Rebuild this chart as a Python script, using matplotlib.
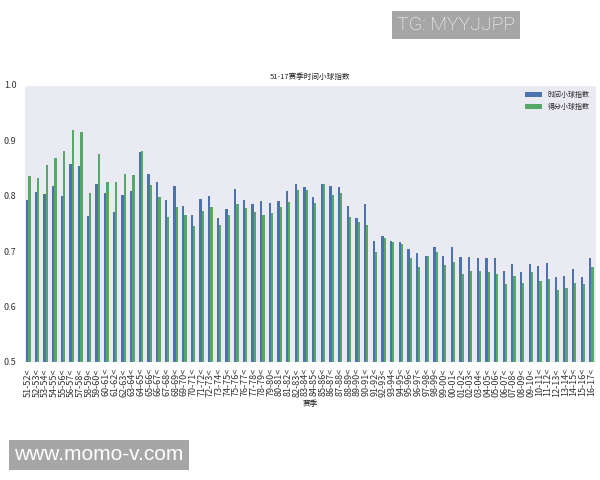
import numpy as np
import matplotlib
matplotlib.use('Agg')
import matplotlib.pyplot as plt
import seaborn as sns

sns.set_style('darkgrid')
plt.rcParams['font.family'] = ['Noto Sans CJK SC', 'DejaVu Sans']
plt.rcParams['axes.unicode_minus'] = False

# seasons 51-52 .. 16-17
years = list(range(1951, 2017))
seasons = ['%02d-%02d<' % (y % 100, (y + 1) % 100) for y in years]

time_idx = [0.792, 0.806, 0.803, 0.818, 0.800, 0.857, 0.853, 0.763, 0.822, 0.805,
            0.770, 0.802, 0.809, 0.879, 0.839, 0.825, 0.792, 0.818, 0.782, 0.766,
            0.794, 0.799, 0.760, 0.776, 0.812, 0.792, 0.785, 0.791, 0.786, 0.791,
            0.808, 0.821, 0.815, 0.798, 0.822, 0.818, 0.816, 0.782, 0.760, 0.785,
            0.718, 0.728, 0.718, 0.717, 0.704, 0.697, 0.691, 0.708, 0.691, 0.708,
            0.690, 0.690, 0.688, 0.687, 0.688, 0.664, 0.676, 0.662, 0.676, 0.673,
            0.678, 0.653, 0.656, 0.668, 0.654, 0.687]
score_idx = [0.836, 0.832, 0.856, 0.869, 0.881, 0.919, 0.915, 0.805, 0.875, 0.825,
             0.825, 0.839, 0.838, 0.881, 0.820, 0.798, 0.762, 0.779, 0.766, 0.745,
             0.772, 0.780, 0.747, 0.765, 0.785, 0.777, 0.771, 0.766, 0.768, 0.779,
             0.788, 0.810, 0.810, 0.787, 0.822, 0.801, 0.805, 0.762, 0.753, 0.748,
             0.699, 0.724, 0.717, 0.712, 0.688, 0.671, 0.691, 0.699, 0.675, 0.681,
             0.659, 0.664, 0.664, 0.663, 0.658, 0.640, 0.656, 0.643, 0.662, 0.646,
             0.649, 0.629, 0.633, 0.643, 0.641, 0.671]

fig = plt.figure(figsize=(6, 4.8), dpi=100)
ax = fig.add_axes([0.040, 0.246, 0.953, 0.577])

x = np.arange(len(seasons))
w = 0.26
ax.bar(x - w / 2, time_idx, w, color='#4C72B0', linewidth=0, label='时间小球指数')
ax.bar(x + w / 2, score_idx, w, color='#55A868', linewidth=0, label='得分小球指数')

ax.grid(False)
ax.set_xlim(-0.5, len(seasons) - 0.5)
ax.set_ylim(0.5, 1.0)
ax.set_xticks(x)
ax.set_xticklabels(seasons, rotation=90, fontsize=6.5, color='#333333')
ax.set_yticks([0.5, 0.6, 0.7, 0.8, 0.9, 1.0])
ax.tick_params(axis='y', labelsize=6.5, labelcolor='#333333', pad=2)
ax.tick_params(axis='x', pad=1)
ax.set_xlabel('赛季', fontsize=5.5, labelpad=2)
ax.set_title('51-17赛季时间小球指数', fontsize=5.5, pad=4)
ax.legend(loc='upper right', fontsize=5, frameon=False, handlelength=2.5)

# watermarks
fig.text(397 / 600, 1 - 25 / 480, 'TG: MYYJJPP', fontsize=14, color='white', va='center',
         family='Roboto', weight='light',
         bbox=dict(boxstyle='square,pad=0.25', fc='#A6A6A6', ec='none'))
fig.text(14 / 600, 1 - 455 / 480, 'www.momo-v.com', fontsize=15, color='white', va='center',
         family='Liberation Sans',
         bbox=dict(boxstyle='square,pad=0.25', fc='#A6A6A6', ec='none'))

fig.savefig('out.png', dpi=100)
